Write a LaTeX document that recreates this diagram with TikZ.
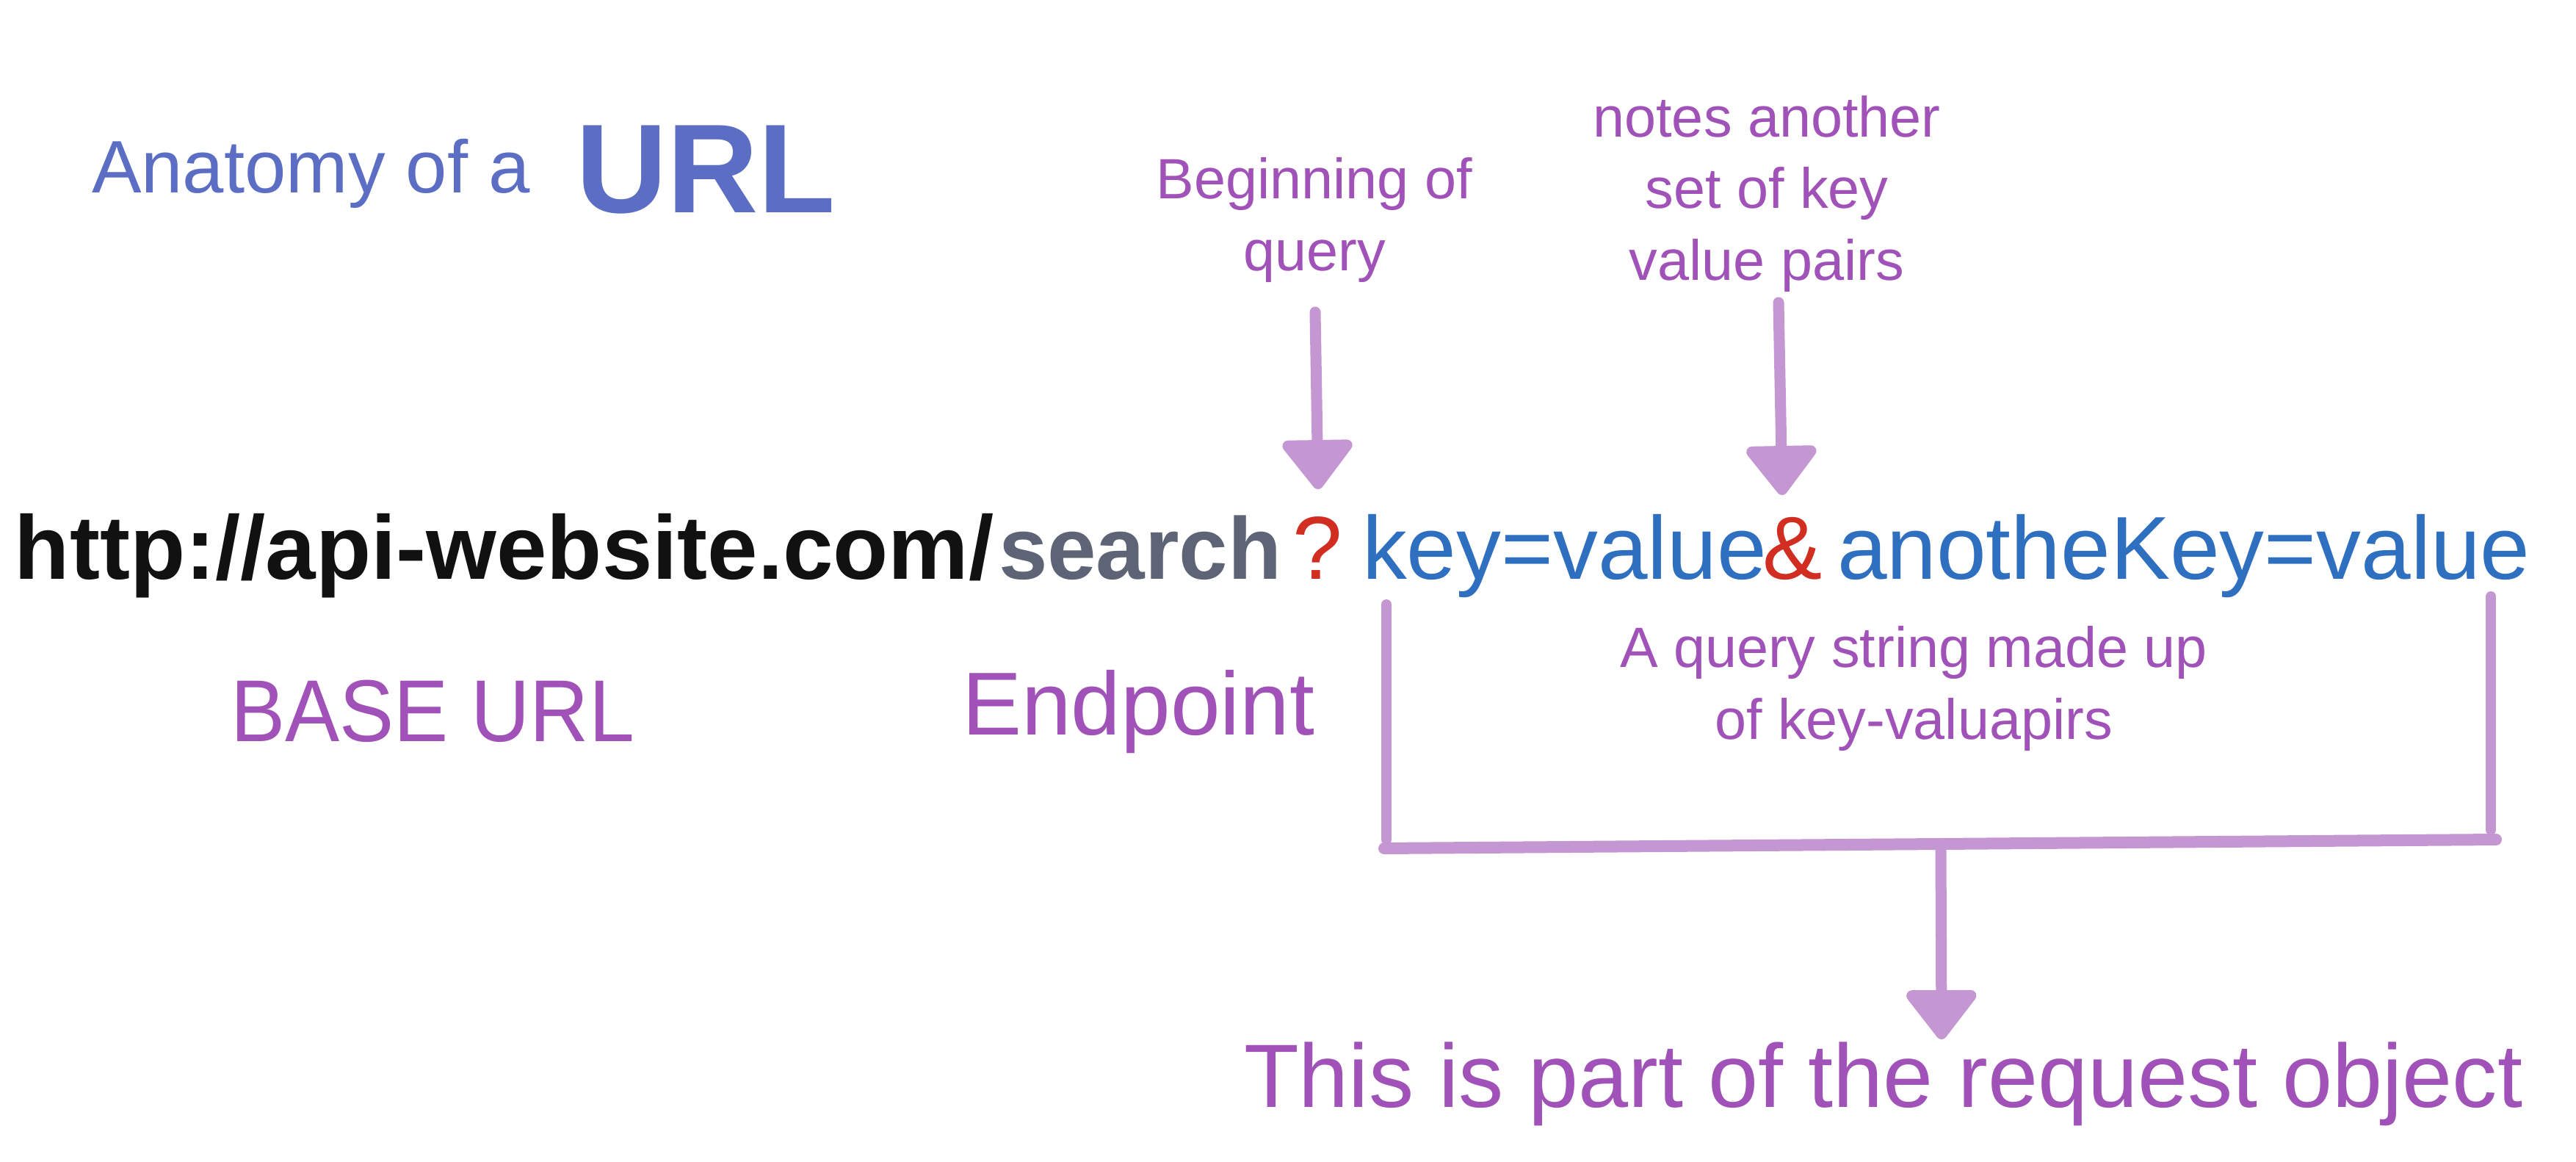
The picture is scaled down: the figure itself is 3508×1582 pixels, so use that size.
\documentclass[tikz,border=0pt]{standalone}
\usepackage{fontspec}
\setmainfont{Liberation Sans}
\usetikzlibrary{arrows.meta}
\definecolor{titleblue}{RGB}{91,110,196}
\definecolor{labelpurple}{RGB}{160,82,184}
\definecolor{arrowpurple}{RGB}{197,151,210}
\definecolor{urlblue}{RGB}{46,111,192}
\definecolor{qred}{RGB}{209,45,33}
\definecolor{searchgray}{RGB}{92,100,117}
\definecolor{urlblack}{RGB}{17,17,17}
\tikzset{
  txt/.style={inner sep=0pt, outer sep=0pt, anchor=base west},
  urlbold/.style={txt, font=\fontsize{35}{42}\selectfont\bfseries},
  urlreg/.style={txt, font=\fontsize{34.6}{42}\selectfont},
  lbl/.style={inner sep=0pt, outer sep=0pt, align=center, anchor=base,
    font=\fontsize{22}{27.6}\selectfont, text=labelpurple},
  biglbl/.style={txt, font=\fontsize{34}{40}\selectfont, text=labelpurple},
  arr/.style={draw=arrowpurple, line width=0.15cm, line cap=round,
    -{Triangle[width=1.07cm,length=0.72cm,round]}},
  brk/.style={draw=arrowpurple, line width=0.14cm, line cap=round}
}
\begin{document}
\begin{tikzpicture}[x=0.01cm,y=-0.01cm]
\useasboundingbox[fill=white] (0,0) rectangle (3508,1582);

% title
\node[txt, font=\fontsize{28.8}{34}\selectfont, text=titleblue] (anat) at (125,263) {Anatomy of a};
\node[txt, font=\fontsize{49}{60}\selectfont\bfseries, text=titleblue] (urlt) at (784,290) {URL};

% URL line
\node[urlbold, text=urlblack] (base) at (20,788) {http://api-website.com/};
\node[urlbold, font=\fontsize{34}{42}\selectfont\bfseries, text=searchgray] (search) at (1360,788) {search};
\node[urlreg, text=qred] (q) at (1760,788) {?};
\node[urlreg, text=urlblue] (kv1) at (1855,788) {key=value};
\node[urlreg, text=qred] (amp) at (2400,788) {\&};
\node[urlreg, text=urlblue] (kv2) at (2502,788) {anotheKey=value};

% labels (base anchor = last line)
\node[lbl] (bq) at (1790,368) {Beginning of\\query};
\node[lbl] (notes) at (2406,381) {notes another\\set of key\\value pairs};
\node[lbl] (qs) at (2606,1006) {A query string made up\\of key-valuapirs};
\node[biglbl] (baseurl) at (314,1009) {\scalebox{0.93}[1]{BASE URL}};
\node[biglbl, font=\fontsize{34.6}{40}\selectfont] (endp) at (1310,1000) {Endpoint};
\node[txt, font=\fontsize{34.8}{41}\selectfont, text=labelpurple] (req) at (1694,1507) {This is part of the request object};

% arrows
\coordinate (a1s) at (1791,425);
\coordinate (a1e) at (1795,666);
\draw[arr] (a1s) -- (a1e);
\coordinate (a2s) at (2422,412);
\coordinate (a2e) at (2427,674);
\draw[arr] (a2s) -- (a2e);

% bracket
\coordinate (bl1) at (1888,823);
\coordinate (bl2) at (1888,1143);
\coordinate (br1) at (3392,812);
\coordinate (br2) at (3392,1130);
\coordinate (bb1) at (1885,1155);
\coordinate (bb2) at (3399,1143);
\draw[brk] (bl1) -- (bl2);
\draw[brk] (br1) -- (br2);
\draw[brk, line width=0.16cm] (bb1) -- (bb2);
\coordinate (a3s) at (2643,1152);
\coordinate (a3e) at (2644,1415);
\draw[arr] (a3s) -- (a3e);
\end{tikzpicture}
\end{document}
